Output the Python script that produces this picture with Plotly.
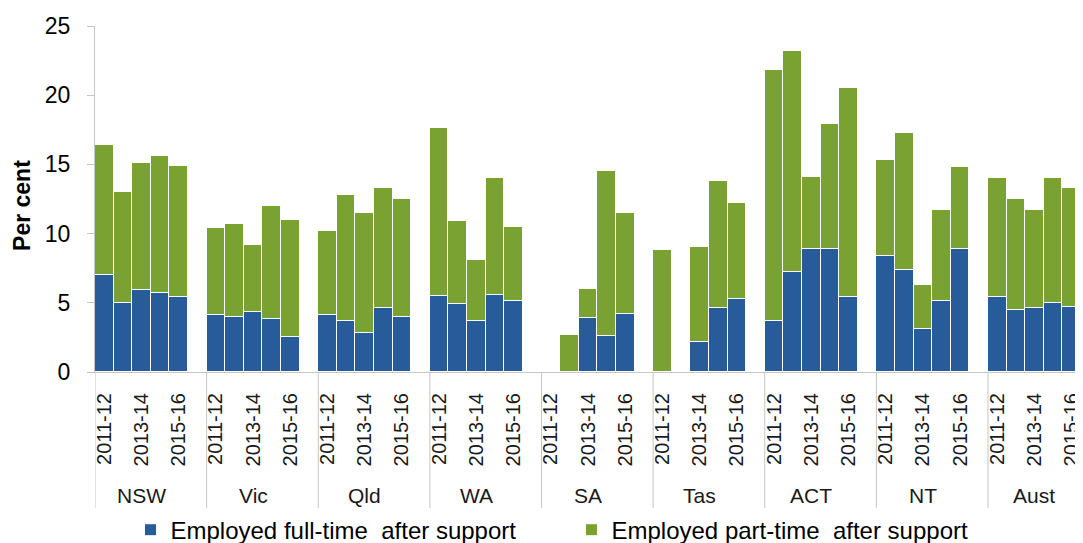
import plotly.graph_objects as go

regions = ["NSW", "Vic", "Qld", "WA", "SA", "Tas", "ACT", "NT", "Aust"]
years = ["2011-12", "2012-13", "2013-14", "2014-15", "2015-16"]

# Employed full-time after support (per cent)
full_time = [
    [7.0, 5.0, 5.9, 5.7, 5.4],      # NSW
    [4.1, 4.0, 4.3, 3.8, 2.5],      # Vic
    [4.1, 3.7, 2.8, 4.6, 4.0],      # Qld
    [5.5, 4.9, 3.7, 5.6, 5.1],      # WA
    [None, None, 3.9, 2.6, 4.2],    # SA
    [None, None, 2.2, 4.6, 5.3],    # Tas
    [3.7, 7.2, 8.9, 8.9, 5.4],      # ACT
    [8.4, 7.4, 3.1, 5.1, 8.9],      # NT
    [5.4, 4.5, 4.6, 5.0, 4.7],      # Aust
]
# Employed part-time after support (per cent)
part_time = [
    [9.4, 8.0, 9.2, 9.9, 9.5],      # NSW
    [6.3, 6.7, 4.9, 8.2, 8.5],      # Vic
    [6.1, 9.1, 8.7, 8.7, 8.5],      # Qld
    [12.1, 6.0, 4.4, 8.4, 5.4],     # WA
    [None, 2.7, 2.1, 11.9, 7.3],    # SA
    [8.8, None, 6.8, 9.2, 6.9],     # Tas
    [18.1, 16.0, 5.2, 9.0, 15.1],   # ACT
    [6.9, 9.9, 3.2, 6.6, 5.9],      # NT
    [8.6, 8.0, 7.1, 9.0, 8.6],      # Aust
]
series_names = ["Employed full-time\u00a0 after support", "Employed part-time\u00a0 after support"]
y_ticks = [0, 5, 10, 15, 20, 25]
shown_years = ["2011-12", "2013-14", "2015-16"]

BLUE = "#285b9a"
GREEN = "#7aa233"
AXIS = "#c6c6c6"
FONT = "Arial, Liberation Sans, sans-serif"

slot = len(years) + 1  # one empty slot between groups
xs, ft, pt = [], [], []
for g, reg in enumerate(regions):
    for i, yr in enumerate(years):
        xs.append(g * slot + i)
        ft.append(full_time[g][i])
        pt.append(part_time[g][i])

tickvals, ticktext = [], []
for g, reg in enumerate(regions):
    for i, yr in enumerate(years):
        if yr in shown_years:
            tickvals.append(g * slot + i)
            ticktext.append(yr)

fig = go.Figure()
fig.add_trace(go.Bar(x=xs, y=ft, name=series_names[0], width=1,
                     marker=dict(color=BLUE, line=dict(color="white", width=1))))
fig.add_trace(go.Bar(x=xs, y=pt, name=series_names[1], width=1,
                     marker=dict(color=GREEN, line=dict(color="white", width=1))))

x_max = (len(regions) - 1) * slot + len(years) - 0.5

shapes = []
for g in range(len(regions) + 1):
    xpos = min(g * slot - 0.5, x_max)
    shapes.append(dict(type="line", xref="x", yref="paper", x0=xpos, x1=xpos,
                       y0=0, y1=-0.393, line=dict(color=AXIS, width=1)))

annotations = []
for g, reg in enumerate(regions):
    annotations.append(dict(x=g * slot + (len(years) - 1) / 2, y=-0.358, xref="x", yref="paper",
                            text=reg, showarrow=False, yanchor="middle",
                            font=dict(size=21, color="#1a1a1a", family=FONT)))
annotations.append(dict(x=-0.074, y=0.48, xref="paper", yref="paper", text="<b>Per cent</b>",
                        textangle=-90, showarrow=False, xanchor="center", yanchor="middle",
                        font=dict(size=23, color="#000", family=FONT)))

# page body has an 8px margin, so the figure is sized to fit the 1083x543 window
fig.update_layout(
    barmode="stack",
    width=1075, height=535,
    margin=dict(l=87, r=2, t=18, b=171, autoexpand=False),
    paper_bgcolor="white", plot_bgcolor="white",
    font=dict(family=FONT, color="#000"),
    showlegend=True,
    legend=dict(orientation="h", x=0.036, xanchor="left", y=-0.457, yanchor="middle",
                font=dict(size=24, color="#000", family=FONT), entrywidth=396,
                traceorder="normal"),
    xaxis=dict(range=[-0.5, x_max], tickvals=tickvals, ticktext=ticktext, tickangle=-90,
               ticks="", showline=True, linecolor=AXIS, linewidth=1, showgrid=False,
               zeroline=False, tickfont=dict(size=20, color="#1a1a1a"), ticklabelstandoff=12,
               automargin=False),
    yaxis=dict(range=[0, 25], tickvals=y_ticks, ticks="outside", ticklen=7, tickcolor=AXIS,
               showline=True, linecolor=AXIS, linewidth=1, showgrid=False, zeroline=False,
               tickfont=dict(size=23, color="#000"), ticklabelstandoff=12, automargin=False),
    shapes=shapes,
    annotations=annotations,
    bargap=0,
)

fig.write_html("out.html")
